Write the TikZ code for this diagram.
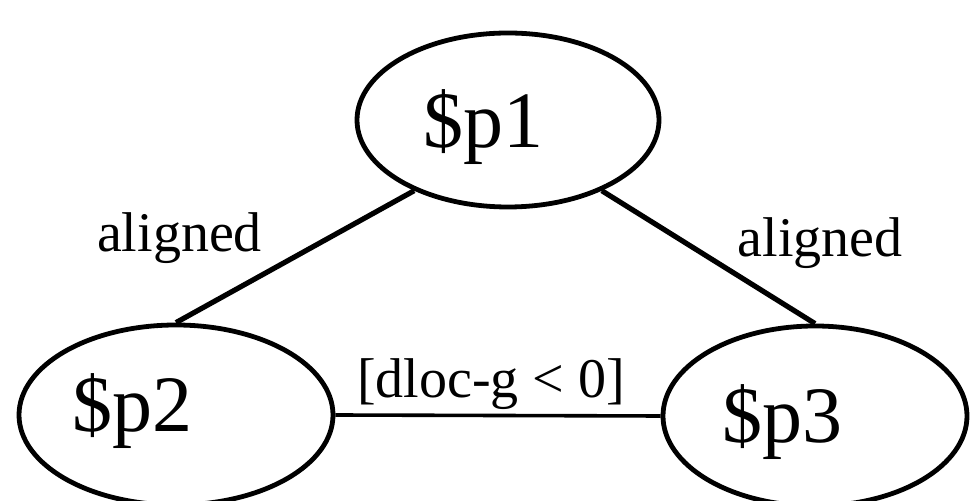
\documentclass[tikz,border=0pt]{standalone}
\usepackage{fontspec}
\setmainfont{Liberation Serif}
\usetikzlibrary{shapes.geometric}

\tikzset{
  place/.style={draw, ellipse, line width=2.4pt, inner sep=0pt},
  pname/.style={anchor=base, font=\fontsize{40}{48}\selectfont},
  rel/.style={anchor=base, font=\fontsize{28}{34}\selectfont},
  link/.style={line width=2.6pt}
}

\begin{document}
\begin{tikzpicture}[x=0.5pt, y=-0.5pt]
  \useasboundingbox (0,0) rectangle (970,501);
  % places
  \node[place, minimum width=151pt, minimum height=87pt] (p1) at (508,120) {};
  \node[place, minimum width=157pt, minimum height=90pt] (p2) at (176,415) {};
  \node[place, minimum width=152pt, minimum height=90pt] (p3) at (815,416) {};
  % names inside the places
  \node[pname] (p1name) at (483,148) {\$p1};
  \node[pname] (p2name) at (132,432) {\$p2};
  \node[pname] (p3name) at (782,443) {\$p3};
  % links
  \draw[link] (p1.217) -- (p2.north);
  \draw[link] (p1.323) -- (p3.north);
  \draw[link, line width=1.8pt] (p2.east) -- (p3.west);
  % relation labels
  \node[rel] (relleft) at (179.5,252) {aligned};
  \node[rel] (relright) at (820,257) {aligned};
  \node[rel] (relbottom) at (491,398) {[dloc-g < 0]};
\end{tikzpicture}
\end{document}
